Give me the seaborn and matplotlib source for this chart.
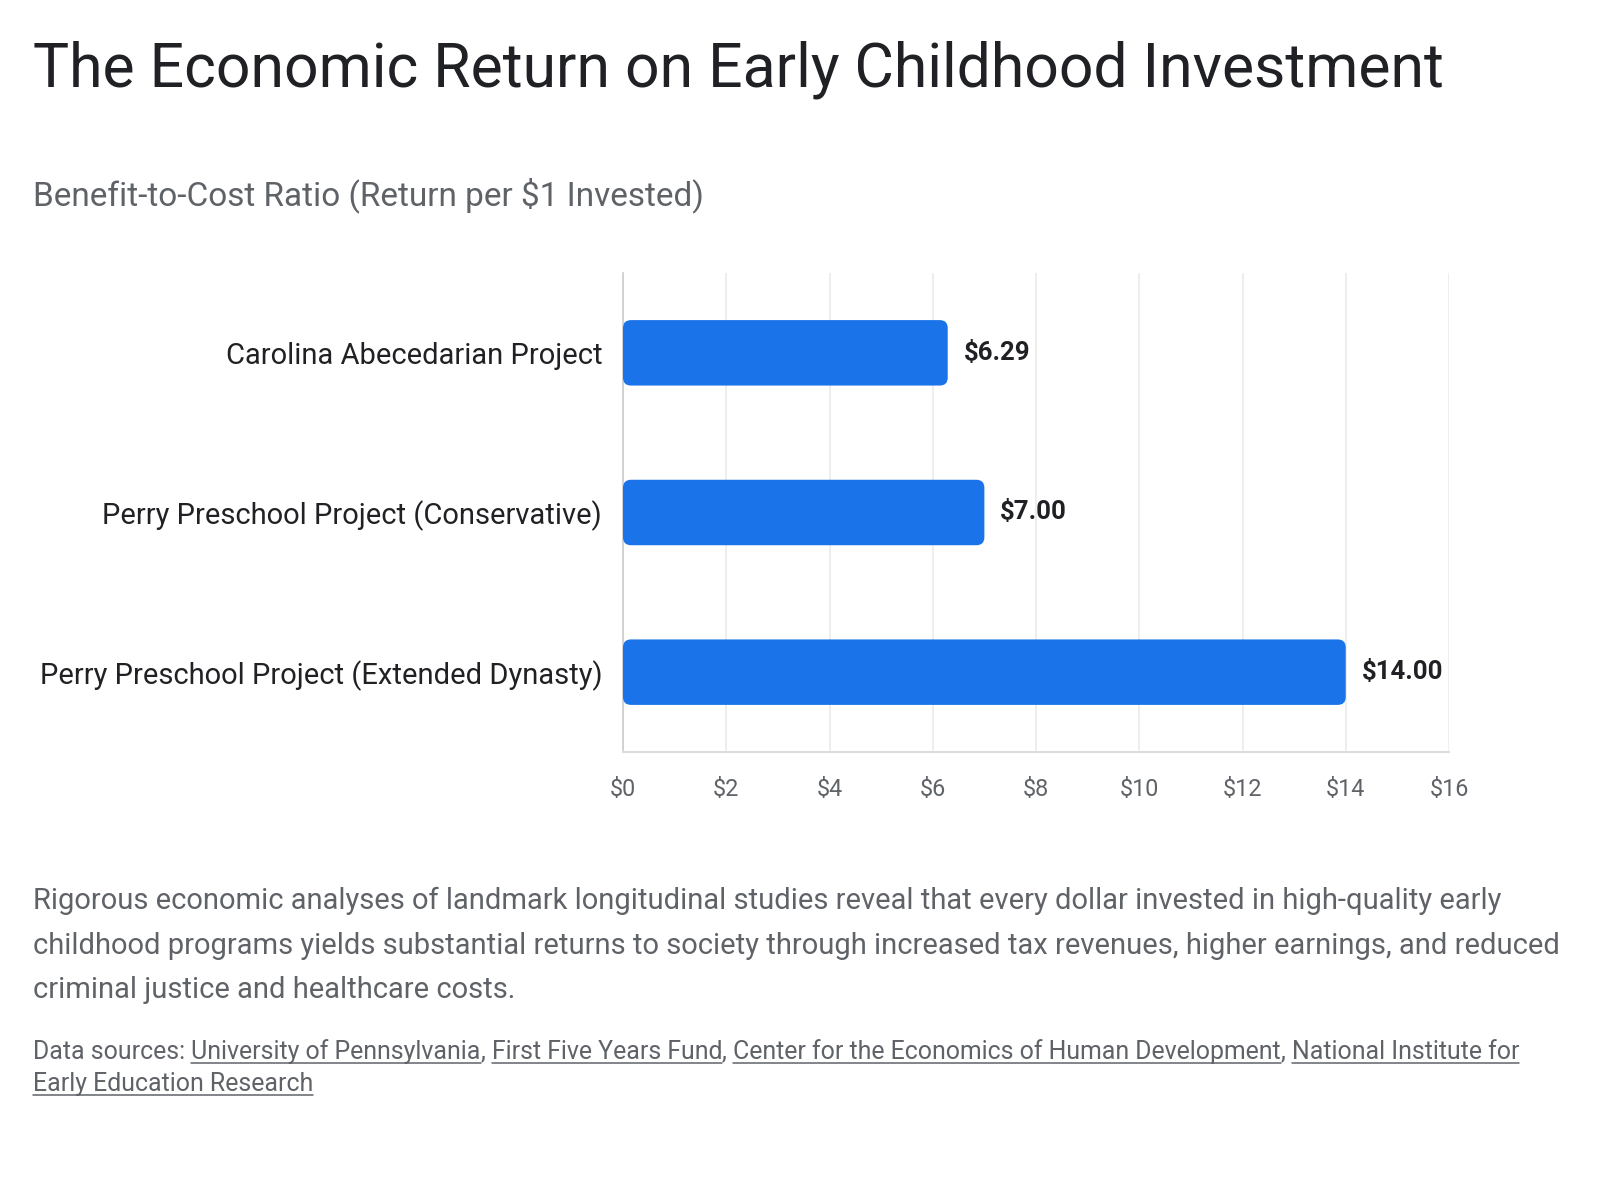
import numpy as np
import pandas as pd
import seaborn as sns
import matplotlib.pyplot as plt
from matplotlib.patches import FancyBboxPatch
from matplotlib.lines import Line2D

# data
programs = [
    "Carolina Abecedarian Project",
    "Perry Preschool Project (Conservative)",
    "Perry Preschool Project (Extended Dynasty)",
]
ratios = [6.29, 7.00, 14.00]
tick_values = [0, 2, 4, 6, 8, 10, 12, 14, 16]
tick_labels = ["$0", "$2", "$4", "$6", "$8", "$10", "$12", "$14", "$16"]

title = "The Economic Return on Early Childhood Investment"
subtitle = "Benefit-to-Cost Ratio (Return per $1 Invested)"
paragraph = [
    "Rigorous economic analyses of landmark longitudinal studies reveal that every dollar invested in high-quality early",
    "childhood programs yields substantial returns to society through increased tax revenues, higher earnings, and reduced",
    "criminal justice and healthcare costs.",
]
source_prefix = "Data sources: "
source_links = [
    "University of Pennsylvania",
    "First Five Years Fund",
    "Center for the Economics of Human Development",
    "National Institute for",
]
source_line2 = "Early Education Research"

BLUE = "#1a73e8"
DARK = "#202124"
GREY = "#5f6368"

sns.set_theme(style="white")
plt.rcParams["font.family"] = ["Roboto", "DejaVu Sans"]

W, H = 1600, 1200
fig = plt.figure(figsize=(16, 12), dpi=100)
fig.patch.set_facecolor("white")

def fx(px):
    return px / W

def fy(py):
    return 1 - py / H

ax = fig.add_axes([fx(623), fy(752), fx(1449 - 623), (752 - 273) / H])

df = pd.DataFrame({"program": programs, "ratio": ratios})
sns.barplot(data=df, x="ratio", y="program", color=BLUE, width=0.41,
            saturation=1, ax=ax, orient="h")

ax.set_xlim(0, 16)
ax.set_ylim(2.5, -0.5)

# swap plain bars for rounded ones
x_px = (1449 - 623) / 16
y_px = (752 - 273) / 3
r = 8 / x_px
for p in list(ax.patches):
    x0, y0 = p.get_x(), p.get_y()
    w, h = p.get_width(), p.get_height()
    p.set_visible(False)
    fb = FancyBboxPatch((x0, y0), w, h,
                        boxstyle=f"round,pad=0,rounding_size={r}",
                        mutation_aspect=x_px / y_px,
                        facecolor=BLUE, edgecolor="none", zorder=3)
    ax.add_patch(fb)

for i, v in enumerate(ratios):
    ax.annotate(f"${v:.2f}", xy=(v, i), xytext=(11.5, 0),
                textcoords="offset points", va="center", ha="left",
                fontsize=18.5, fontweight="bold", color=DARK)

ax.set_xticks(tick_values)
ax.set_xticklabels(tick_labels, fontsize=16.8, color=GREY)
ax.tick_params(axis="x", length=0, pad=19)
ax.tick_params(axis="y", length=0, pad=15, labelsize=21, labelcolor=DARK)
ax.set_xlabel("")
ax.set_ylabel("")
ax.grid(axis="x", color="#ebebeb", linewidth=1.2, zorder=0)
ax.set_axisbelow(True)
for s in ["top", "right"]:
    ax.spines[s].set_visible(False)
ax.spines["left"].set_color("#cccccc")
ax.spines["left"].set_linewidth(1.2)
ax.spines["bottom"].set_color("#dddddd")
ax.spines["bottom"].set_linewidth(1.5)

# header
fig.text(fx(33), fy(70), title, fontsize=43.7, color=DARK, va="center", ha="left")
fig.text(fx(33), fy(195), subtitle, fontsize=24, color=GREY, va="center", ha="left")

# paragraph
for k, line in enumerate(paragraph):
    fig.text(fx(33), fy(901 + k * 44.5), line, fontsize=21, color=GREY,
             va="center", ha="left")

# sources with underlined links
fig.canvas.draw()
renderer = fig.canvas.get_renderer()
src_size = 17.9

def underline(t):
    bb = t.get_window_extent(renderer)
    yline = bb.y0 + 1
    fig.add_artist(Line2D([bb.x0 / W, bb.x1 / W], [yline / H, yline / H],
                          color=GREY, linewidth=1.1))

x_cur = 33
y1 = 1052
t = fig.text(fx(x_cur), fy(y1), source_prefix, fontsize=src_size, color=GREY,
             va="center", ha="left")
x_cur = t.get_window_extent(renderer).x1
for j, link in enumerate(source_links):
    t = fig.text(x_cur / W, fy(y1), link, fontsize=src_size, color=GREY,
                 va="center", ha="left")
    underline(t)
    x_cur = t.get_window_extent(renderer).x1
    if j < len(source_links) - 1:
        t = fig.text(x_cur / W, fy(y1), ", ", fontsize=src_size, color=GREY,
                     va="center", ha="left")
        x_cur = t.get_window_extent(renderer).x1
t = fig.text(fx(33), fy(1084), source_line2, fontsize=src_size, color=GREY,
             va="center", ha="left")
underline(t)

fig.savefig("out.png", dpi=100, facecolor="white")
